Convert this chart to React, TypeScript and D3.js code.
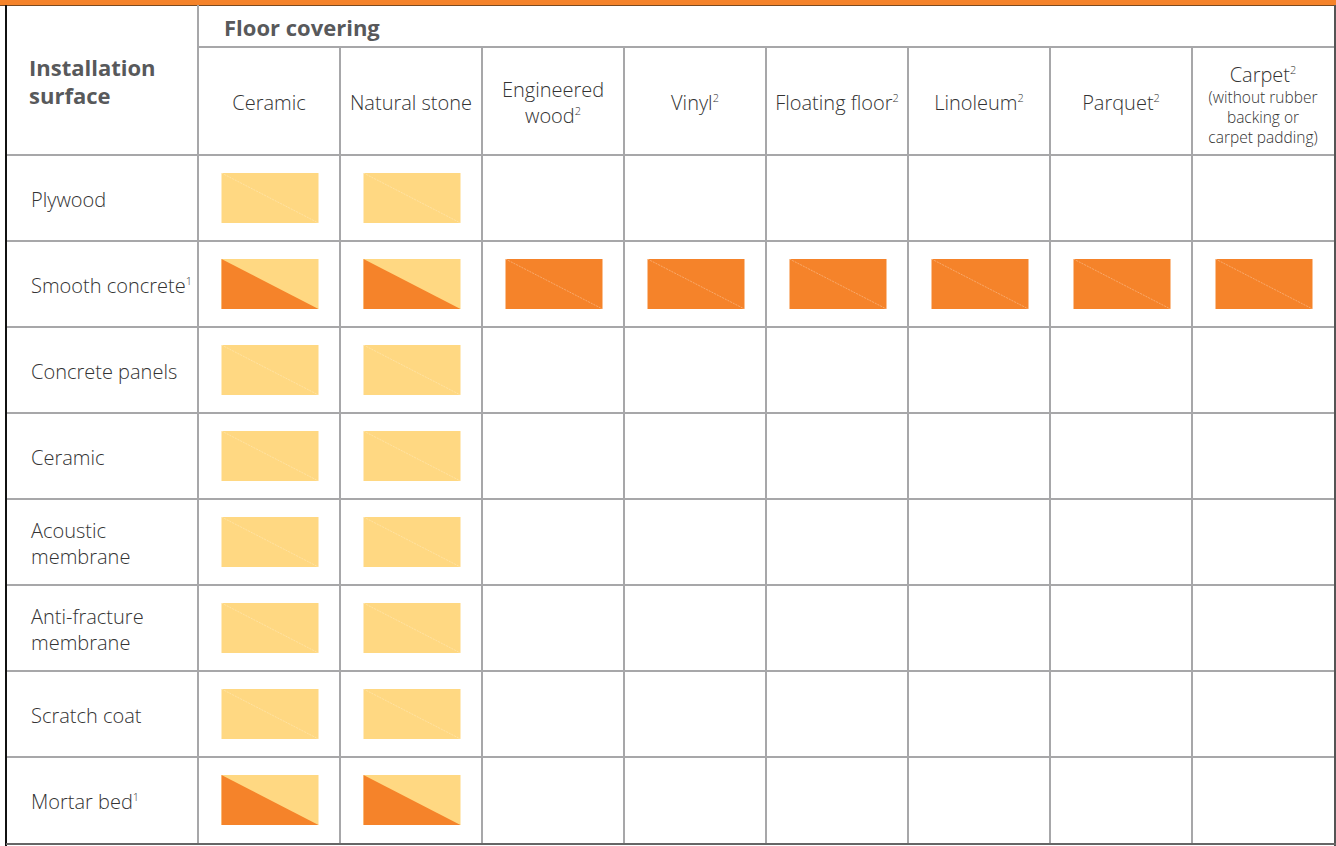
import React, { useEffect, useRef } from "react";
import * as d3 from "d3";

// --- Data
const columns = [
  "Ceramic",
  "Natural stone",
  "Engineered wood",
  "Vinyl",
  "Floating floor",
  "Linoleum",
  "Parquet",
  "Carpet",
];
// header lines per column: [text, superscript]
const columnLines: [string, string][][] = [
  [["Ceramic", ""]],
  [["Natural stone", ""]],
  [["Engineered", ""], ["wood", "2"]],
  [["Vinyl", "2"]],
  [["Floating floor", "2"]],
  [["Linoleum", "2"]],
  [["Parquet", "2"]],
  [["Carpet", "2"]],
];
const carpetNote = ["(without rubber", "backing or", "carpet padding)"];

const rows = [
  "Plywood",
  "Smooth concrete",
  "Concrete panels",
  "Ceramic",
  "Acoustic membrane",
  "Anti-fracture membrane",
  "Scratch coat",
  "Mortar bed",
];
const rowLines: [string, string][][] = [
  [["Plywood", ""]],
  [["Smooth concrete", "1"]],
  [["Concrete panels", ""]],
  [["Ceramic", ""]],
  [["Acoustic", ""], ["membrane", ""]],
  [["Anti-fracture", ""], ["membrane", ""]],
  [["Scratch coat", ""]],
  [["Mortar bed", "1"]],
];

// Y = light (yellow), O = full orange, H = half (orange lower-left, yellow upper-right), "" = none
const cells: string[][] = [
  ["Y", "Y", "", "", "", "", "", ""],
  ["H", "H", "O", "O", "O", "O", "O", "O"],
  ["Y", "Y", "", "", "", "", "", ""],
  ["Y", "Y", "", "", "", "", "", ""],
  ["Y", "Y", "", "", "", "", "", ""],
  ["Y", "Y", "", "", "", "", "", ""],
  ["Y", "Y", "", "", "", "", "", ""],
  ["H", "H", "", "", "", "", "", ""],
];

const YELLOW = "#ffd882";
const ORANGE = "#f5832a";
const GRID = "#a7a7a9";
const FONT = "'Open Sans', 'Noto Sans', sans-serif";

const App: React.FC = () => {
  const ref = useRef<SVGSVGElement | null>(null);
  const width = 1336;
  const height = 846;

  useEffect(() => {
    if (!ref.current) return;
    const svg = d3.select(ref.current);
    svg.selectAll("*").remove();

    const left = 6;
    const firstColRight = 198;
    const right = 1334;
    const top = 5;
    const subHeaderTop = 47;
    const bodyTop = 155;
    const bottom = 843;

    const x = d3.scaleBand<string>().domain(columns).range([firstColRight, right]);
    const y = d3.scaleBand<string>().domain(rows).range([bodyTop, bottom]);

    svg.append("rect").attr("width", width).attr("height", height).attr("fill", "white");

    // top orange band
    svg.append("rect").attr("x", 0).attr("y", 0).attr("width", width).attr("height", top).attr("fill", ORANGE);
    svg.append("line").attr("x1", 0).attr("x2", width).attr("y1", top + 0.5).attr("y2", top + 0.5)
      .attr("stroke", "#7a4a20").attr("stroke-width", 1);

    const grid = svg.append("g").attr("stroke", GRID).attr("stroke-width", 2);

    // horizontal lines
    grid.append("line").attr("x1", firstColRight).attr("x2", right).attr("y1", subHeaderTop).attr("y2", subHeaderTop);
    rows.forEach((r) => {
      grid.append("line").attr("x1", left).attr("x2", right)
        .attr("y1", y(r)!).attr("y2", y(r)!);
    });

    // vertical lines
    grid.append("line").attr("x1", firstColRight).attr("x2", firstColRight).attr("y1", top).attr("y2", bottom);
    columns.forEach((c, i) => {
      if (i === 0) return;
      grid.append("line").attr("x1", x(c)!).attr("x2", x(c)!).attr("y1", subHeaderTop).attr("y2", bottom);
    });

    // outer borders
    svg.append("line").attr("x1", left).attr("x2", left).attr("y1", top).attr("y2", height)
      .attr("stroke", "#111").attr("stroke-width", 2);
    svg.append("line").attr("x1", right + 1).attr("x2", right + 1).attr("y1", top).attr("y2", height)
      .attr("stroke", "#555").attr("stroke-width", 2);
    svg.append("line").attr("x1", left).attr("x2", right + 2).attr("y1", bottom + 1).attr("y2", bottom + 1)
      .attr("stroke", "#666").attr("stroke-width", 2);

    // helper for text with superscript
    const addText = (
      g: d3.Selection<SVGGElement, unknown, null, undefined>,
      tx: number,
      ty: number,
      parts: [string, string],
      size: number,
      anchor: string,
      weight = "300",
      fill = "#333"
    ) => {
      const t = g.append("text")
        .attr("x", tx).attr("y", ty)
        .attr("text-anchor", anchor)
        .style("font-family", FONT)
        .style("font-size", `${size}px`)
        .style("font-weight", weight)
        .style("fill", fill);
      t.append("tspan").text(parts[0]);
      if (parts[1]) {
        t.append("tspan").attr("dy", -size * 0.4).style("font-size", `${size * 0.55}px`).text(parts[1]);
      }
    };

    const labels = svg.append("g");

    // Title headers
    addText(labels, 29, 76, ["Installation", ""], 22, "start", "700", "#58595b");
    addText(labels, 29, 104, ["surface", ""], 22, "start", "700", "#58595b");
    addText(labels, 224, 36, ["Floor covering", ""], 22, "start", "700", "#58595b");

    // Column headers
    const hMid = (subHeaderTop + bodyTop) / 2;
    columns.forEach((c, i) => {
      const cx = x(c)! + x.bandwidth() / 2;
      const lines = columnLines[i];
      if (c === "Carpet") {
        addText(labels, cx, 82, lines[0], 20, "middle");
        carpetNote.forEach((n, k) => {
          addText(labels, cx, 103 + k * 20, [n, ""], 15.5, "middle");
        });
      } else {
        const lh = 26;
        const y0 = hMid + 9 - ((lines.length - 1) * lh) / 2;
        lines.forEach((l, k) => addText(labels, cx, y0 + k * lh, l, 20, "middle"));
      }
    });

    // Row labels
    rows.forEach((r, i) => {
      const cy = y(r)! + y.bandwidth() / 2;
      const lines = rowLines[i];
      const lh = 26;
      const y0 = cy + 9 - ((lines.length - 1) * lh) / 2;
      lines.forEach((l, k) => addText(labels, 31, y0 + k * lh, l, 20, "start"));
    });

    // Cell marks
    const markW = 97;
    const markH = 50;
    const marks = svg.append("g");
    rows.forEach((r, i) => {
      columns.forEach((c, j) => {
        const code = cells[i][j];
        if (!code) return;
        const x0 = x(c)! + (x.bandwidth() - markW) / 2 + 1;
        const y0 = y(r)! + 18;
        const x1 = x0 + markW;
        const y1 = y0 + markH;
        const base = code === "O" ? ORANGE : YELLOW;
        marks.append("rect").attr("x", x0).attr("y", y0).attr("width", markW).attr("height", markH).attr("fill", base);
        if (code === "H") {
          marks.append("path")
            .attr("d", `M${x0},${y0}L${x0},${y1}L${x1},${y1}Z`)
            .attr("fill", ORANGE);
        } else {
          marks.append("line")
            .attr("x1", x0).attr("y1", y0).attr("x2", x1).attr("y2", y1)
            .attr("stroke", "white").attr("stroke-opacity", code === "O" ? 0.3 : 0.25).attr("stroke-width", 1)
            .attr("stroke-dasharray", "2,1");
        }
      });
    });
  }, []);

  return (
    <svg
      ref={ref}
      width={width}
      height={height}
      style={{ position: "absolute", left: 0, top: 0, display: "block" }}
    />
  );
};

export default App;
